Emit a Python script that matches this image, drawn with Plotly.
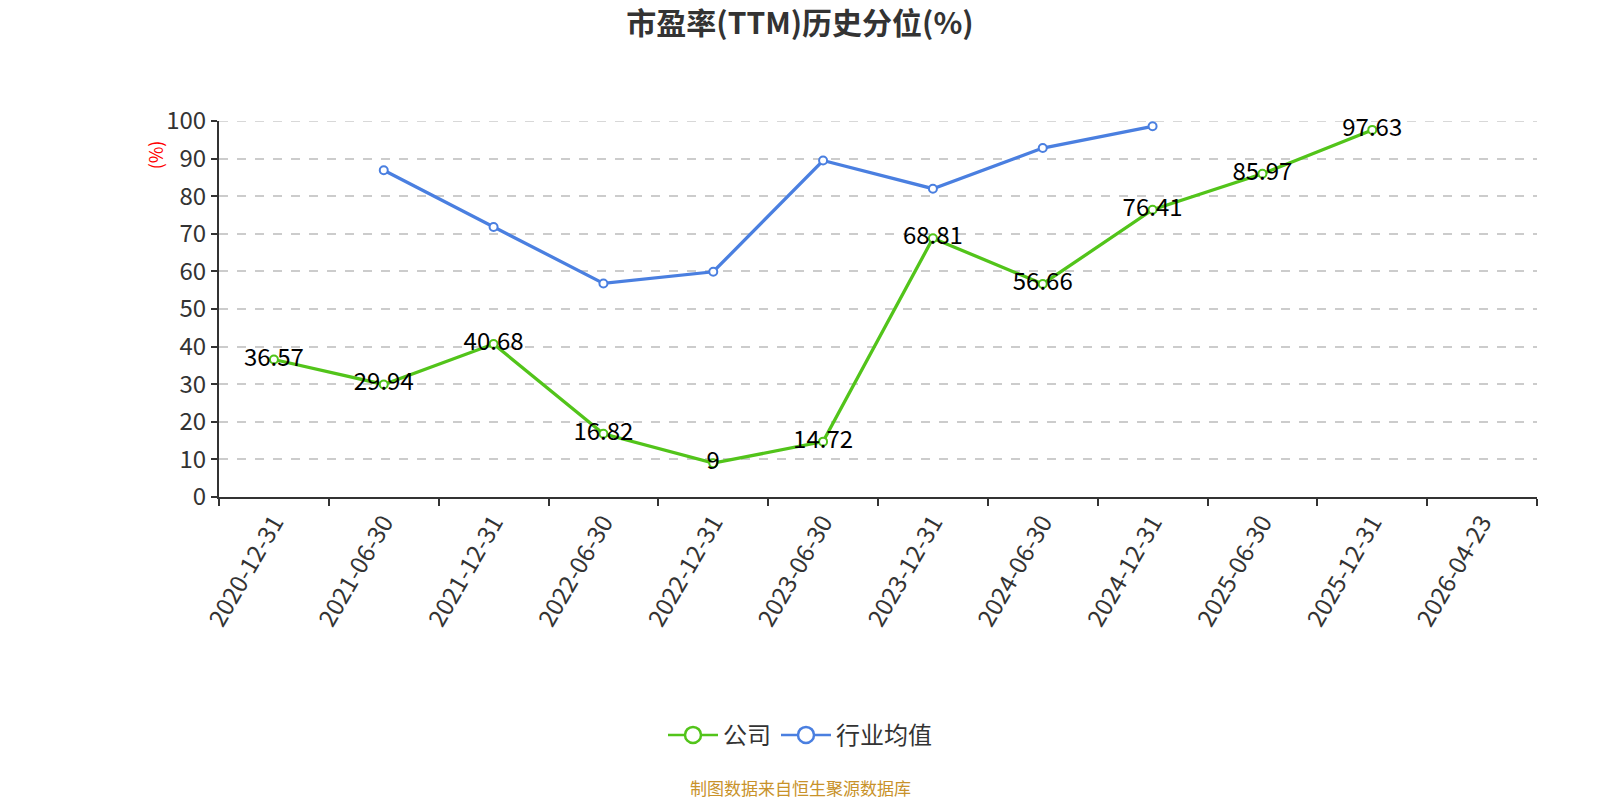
import plotly.graph_objects as go

categories = ["2020-12-31", "2021-06-30", "2021-12-31", "2022-06-30", "2022-12-31",
              "2023-06-30", "2023-12-31", "2024-06-30", "2024-12-31", "2025-06-30",
              "2025-12-31", "2026-04-23"]
company = [36.57, 29.94, 40.68, 16.82, 9, 14.72, 68.81, 56.66, 76.41, 85.97, 97.63, None]
industry = [None, 86.9, 71.8, 56.8, 59.9, 89.5, 82.0, 92.8, 98.6, None, None, None]
company_labels = ["" if v is None else f"{v:g}" for v in company]
y_max = 100

FONT = "Noto Sans CJK SC, Noto Sans, sans-serif"
GREEN = "#52c41a"
BLUE = "#4a7fe0"

PL, PR, PT, PB = 219, 1537, 120.7, 496.7
PW, PH = PR - PL, PB - PT


def px_x(x):
    return (x - PL) / PW


def px_y(y):
    return (PB - y) / PH


fig = go.Figure()
fig.add_trace(go.Scatter(
    x=categories, y=industry, name="行业均值", mode="lines+markers", showlegend=False,
    line=dict(color=BLUE, width=3.3),
    marker=dict(symbol="circle", size=8, color="white", line=dict(color=BLUE, width=2)),
    connectgaps=False, cliponaxis=False,
))
fig.add_trace(go.Scatter(
    x=categories, y=company, name="公司", mode="lines+markers+text", showlegend=False,
    text=company_labels, textposition="middle center",
    textfont=dict(family=FONT, size=24, color="#000000"),
    line=dict(color=GREEN, width=3.3),
    marker=dict(symbol="circle", size=8, color="white", line=dict(color=GREEN, width=2)),
    connectgaps=False, cliponaxis=False,
))
# legend entries (no data of their own)
fig.add_trace(go.Scatter(
    x=[None], y=[None], name="公司", mode="lines+markers", legendrank=1,
    line=dict(color=GREEN, width=2.5),
    marker=dict(symbol="circle", size=16, color="white", line=dict(color=GREEN, width=2.5)),
))
fig.add_trace(go.Scatter(
    x=[None], y=[None], name="行业均值", mode="lines+markers", legendrank=2,
    line=dict(color=BLUE, width=2.5),
    marker=dict(symbol="circle", size=16, color="white", line=dict(color=BLUE, width=2.5)),
))

fig.update_layout(
    width=1600, height=800,
    paper_bgcolor="white", plot_bgcolor="white",
    margin=dict(l=PL, r=1600 - PR, t=PT, b=800 - PB, autoexpand=False),
    font=dict(family=FONT, color="#333333", size=22),
    title=dict(text="<b>市盈率(TTM)历史分位(%)</b>", x=0.5, xanchor="center",
               y=1 - 23 / 800, yanchor="middle", yref="container",
               font=dict(family=FONT, size=30, color="#333333")),
    showlegend=True,
    legend=dict(orientation="h", x=px_x(800), xanchor="center", y=px_y(735),
                yanchor="middle", font=dict(size=24, color="#333333"),
                itemwidth=50, itemsizing="trace"),
    xaxis=dict(type="category", categoryorder="array", categoryarray=categories,
               range=[-0.5, len(categories) - 0.5], tickson="boundaries",
               ticks="outside", ticklen=7, tickcolor="#333333", tickwidth=2,
               showline=True, linecolor="#333333", linewidth=2,
               showgrid=False, tickangle=-60, tickfont=dict(size=24, color="#333333")),
    yaxis=dict(range=[0, y_max], dtick=10, tick0=0, ticks="outside", ticklen=6,
               tickcolor="#333333", tickwidth=2, showline=True, linecolor="#333333",
               linewidth=2, showgrid=True, gridcolor="#cccccc", griddash="dash",
               gridwidth=1.5, zeroline=False, tickfont=dict(size=24, color="#333333")),
    shapes=[
        dict(type="line", xref="paper", x0=0, x1=1, yref="y", y0=y_max, y1=y_max,
             line=dict(color="#cccccc", width=1.5, dash="dash"), layer="below"),
    ],
    annotations=[
        dict(text="(%)", x=px_x(155), y=px_y(155), xref="paper", yref="paper",
             xanchor="center", yanchor="middle",
             showarrow=False, textangle=-90, font=dict(size=18, color="red")),
        dict(text="制图数据来自恒生聚源数据库", x=px_x(800), y=px_y(787), xref="paper",
             yref="paper", showarrow=False, xanchor="center", yanchor="middle",
             font=dict(size=17, color="#c8922a")),
    ],
)

fig.write_html("out.html")
